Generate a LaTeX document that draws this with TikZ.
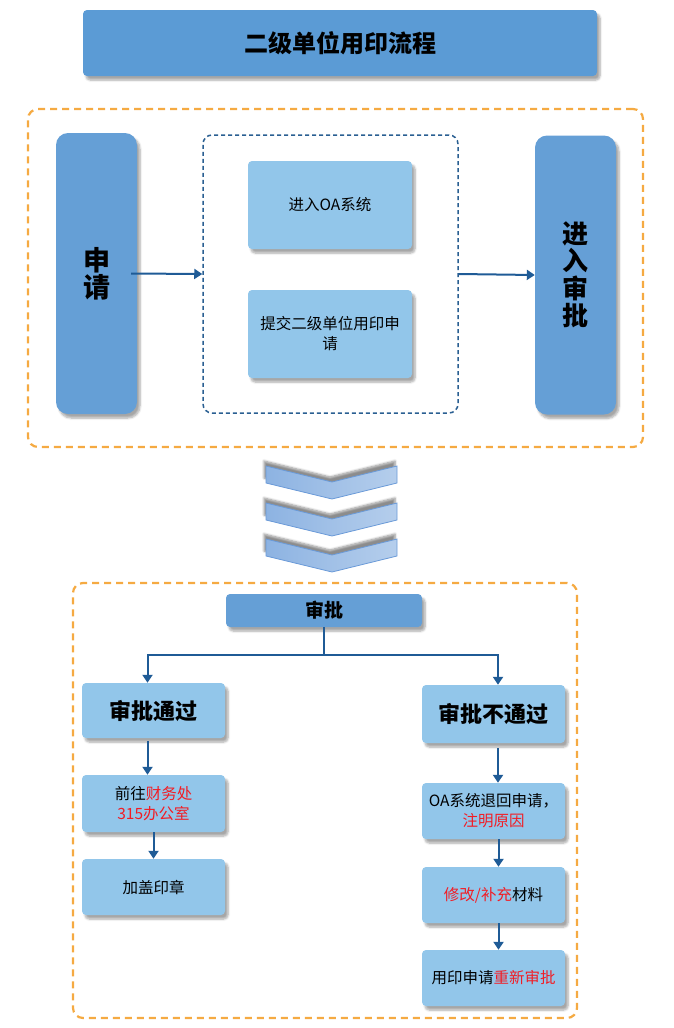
\documentclass[tikz,border=0pt]{standalone}
\usepackage{fontspec}
\setmainfont{Noto Sans CJK SC}
\usetikzlibrary{shadows,shadows.blur}
\usetikzlibrary{arrows.meta}
\definecolor{SealBlue}{HTML}{5B9BD5}
\definecolor{SealMid}{HTML}{659FD6}
\definecolor{SealLight}{HTML}{92C6EA}
\definecolor{SealOrange}{HTML}{F5AA42}
\definecolor{SealDash}{HTML}{2A5F92}
\definecolor{SealArrow}{HTML}{1F5B96}
\definecolor{SealRed}{HTML}{F21C24}
\definecolor{ChevLeft}{HTML}{8DB3E2}
\definecolor{ChevRight}{HTML}{B5CEEC}
\definecolor{ChevEdge}{HTML}{6A9AD8}
\newcommand{\redtxt}[1]{\textcolor{SealRed}{#1}}
\tikzset{
  boxshadow/.style={blur shadow={shadow xshift=3pt, shadow yshift=-4pt, shadow blur steps=6, shadow opacity=35}},
  darkbox/.style={rectangle, fill=SealMid, rounded corners=4pt, boxshadow, align=center, inner sep=0pt},
  lightbox/.style={rectangle, fill=SealLight, rounded corners=4pt, boxshadow, align=center, inner sep=0pt,
    minimum width=143pt, minimum height=56pt, font=\fontsize{15.5}{20}\selectfont},
  orangeframe/.style={rectangle, draw=SealOrange, line width=2.2pt, dash pattern=on 7pt off 5pt, rounded corners=10pt},
  flow/.style={draw=SealArrow, line width=2pt, -{Triangle[length=8pt,width=10pt]}},
  chevron/.style={left color=ChevLeft, right color=ChevRight, draw=ChevEdge, line width=0.8pt,
    blur shadow={shadow xshift=-2pt, shadow yshift=5pt, shadow blur steps=6, shadow opacity=45}},
}
\begin{document}
\begin{tikzpicture}[x=1pt, y=-1pt]
  \useasboundingbox (0,0) rectangle (673,1028);
  % title
  \node [darkbox, fill=SealBlue, minimum width=514pt, minimum height=66pt, font=\fontsize{24}{28}\bfseries] (title) at (340,43) {二级单位用印流程};
  %
  % upper part: application
  \node [orangeframe, minimum width=615pt, minimum height=338pt] (frameup) at (335.5,278) {};
  \node [darkbox, rounded corners=12pt, minimum width=81pt, minimum height=281pt, font=\fontsize{27}{27}\bfseries] (apply) at (96.5,273.5) {申\\请};
  \node [rectangle, draw=SealDash, line width=1.5pt, dash pattern=on 4pt off 3pt, rounded corners=9pt, minimum width=255pt, minimum height=278pt] (steps) at (330.5,274) {};
  \node [lightbox, minimum width=164pt, minimum height=88pt] (oa) at (330,205) {进入OA系统};
  \node [lightbox, minimum width=164pt, minimum height=88pt] (submit) at (330,334) {提交二级单位用印申\\请};
  \node [darkbox, rounded corners=12pt, minimum width=81pt, minimum height=279pt, font=\fontsize{26}{27.5}\bfseries] (enter) at (575.5,275) {进\\入\\审\\批};
  \draw [flow] ([xshift=-6pt]apply.east) -- (steps.west);
  \draw [flow] (steps.east) -- (enter.west);
  %
  % chevrons
  \foreach \t in {466,503,539} {
    \shade [chevron] (266,\t) -- (332,\t+16) -- (397,\t) -- (397,\t+17) -- (332,\t+33) -- (266,\t+17) -- cycle;
  }
  %
  % lower part: approval
  \node [orangeframe, minimum width=504pt, minimum height=435pt] (framelow) at (325,800.5) {};
  \node [darkbox, minimum width=196pt, minimum height=33pt, font=\fontsize{19}{22}\bfseries] (check) at (324,610.5) {审批};
  \coordinate (split) at (324,655);
  \node [lightbox, minimum height=55pt, font=\fontsize{22}{24}\bfseries] (pass) at (153.5,710.5) {审批通过};
  \node [lightbox, minimum height=57pt] (goto) at (153.5,803.5) {前往\redtxt{财务处}\\\redtxt{315办公室}};
  \node [lightbox] (stamp) at (153.5,887) {加盖印章};
  \node [lightbox, minimum height=58pt, font=\fontsize{22}{24}\bfseries] (reject) at (493.5,714) {审批不通过};
  \node [lightbox] (back) at (493.5,811) {OA系统退回申请，\\\redtxt{注明原因}};
  \node [lightbox] (revise) at (493.5,895) {\redtxt{修改/补充}材料};
  \node [lightbox] (redo) at (493.5,978) {用印申请\redtxt{重新审批}};
  %
  \draw [flow] (check.south) -- (split) -| ([xshift=-6pt]pass.north);
  \draw [flow] (split) -| ([xshift=4.5pt]reject.north);
  \draw [flow, shorten <=3pt] ([xshift=-6pt]pass.south) -- ([xshift=-6pt]goto.north);
  \draw [flow] (goto.south) -- (stamp.north);
  \draw [flow, shorten <=5pt] ([xshift=4.5pt]reject.south) -- ([xshift=4.5pt]back.north);
  \draw [flow] ([xshift=5pt]back.south) -- ([xshift=5pt]revise.north);
  \draw [flow] ([xshift=5pt]revise.south) -- ([xshift=5pt]redo.north);
\end{tikzpicture}
\end{document}
